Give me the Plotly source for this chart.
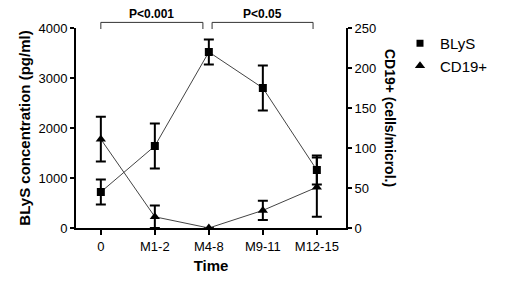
import plotly.graph_objects as go

categories = ["0", "M1-2", "M4-8", "M9-11", "M12-15"]
blys = [720, 1640, 3520, 2800, 1160]
blys_err = [250, 450, 250, 450, 290]
cd19 = [111, 14, 0, 22, 51]
cd19_err = [28, 14, 0, 12, 37]

xpos = list(range(len(categories)))
FONT = "Liberation Sans, Arial"

fig = go.Figure()
fig.add_trace(go.Scatter(
    x=xpos, y=blys, name="BLyS", mode="lines+markers", showlegend=False,
    line=dict(color="#444444", width=1),
    marker=dict(symbol="square", size=8, color="black"),
    error_y=dict(type="data", array=blys_err, color="black", thickness=2, width=5),
))
fig.add_trace(go.Scatter(
    x=xpos, y=cd19, name="CD19+", mode="lines+markers", yaxis="y2", showlegend=False,
    line=dict(color="#444444", width=1),
    marker=dict(symbol="triangle-up", size=9, color="black"),
    error_y=dict(type="data", array=cd19_err, color="black", thickness=2, width=5),
))
# legend entries (markers only)
fig.add_trace(go.Scatter(x=[None], y=[None], name="BLyS", mode="markers",
                         marker=dict(symbol="square", size=7, color="black")))
fig.add_trace(go.Scatter(x=[None], y=[None], name="CD19+", mode="markers",
                         marker=dict(symbol="triangle-up", size=9, color="black")))

axis_common = dict(
    showline=True, linecolor="black", linewidth=2,
    ticks="outside", tickcolor="black", tickwidth=2,
    showgrid=False, zeroline=False, automargin=False,
    tickfont=dict(size=13, family=FONT, color="black"),
)

fig.update_layout(
    width=504, height=266,
    margin=dict(l=68, r=166, t=20, b=46, autoexpand=False),
    paper_bgcolor="white", plot_bgcolor="white",
    font=dict(family=FONT, size=12, color="black"),
    showlegend=True,
    legend=dict(x=1.2, y=1.005, xanchor="left", yanchor="top",
                font=dict(size=15, family=FONT, color="black"),
                bgcolor="rgba(0,0,0,0)", itemwidth=30, tracegroupgap=4),
    xaxis=dict(
        range=[-0.46, 4.54], tickvals=xpos, ticktext=categories, ticklen=5,
        title=dict(text="<b>Time</b>", font=dict(size=15, family=FONT, color="black"), standoff=8),
        **axis_common,
    ),
    yaxis=dict(
        range=[0, 4000], tickvals=[0, 1000, 2000, 3000, 4000], ticklen=4,
        title=dict(text="<b>BLyS concentration (pg/ml)</b>", font=dict(size=15, family=FONT, color="black"), standoff=4),
        **axis_common,
    ),
    yaxis2=dict(
        range=[0, 250], tickvals=[0, 50, 100, 150, 200, 250], ticklen=4,
        overlaying="y", side="right", anchor="x",
        **axis_common,
    ),
)

fig.add_annotation(text="<b>CD19+ (cells/microl.)</b>", textangle=90,
                   xref="paper", yref="paper", x=1.163, y=0.55,
                   xanchor="center", showarrow=False,
                   font=dict(size=14, family=FONT, color="black"))

# significance brackets
brackets = [(0, 1.89, "P<0.001"), (2.06, 3.93, "P<0.05")]
for x0, x1, label in brackets:
    fig.add_shape(type="path", xref="x", yref="paper",
                  path=f"M {x0},0.995 L {x0},1.028 L {x1},1.028 L {x1},0.995",
                  line=dict(color="#333333", width=1))
    fig.add_annotation(text=f"<b>{label}</b>", xref="x", yref="paper",
                       x=(x0 + x1) / 2, y=1.025, yanchor="bottom", showarrow=False,
                       font=dict(size=12, family=FONT, color="black"))

fig.write_html("out.html")
